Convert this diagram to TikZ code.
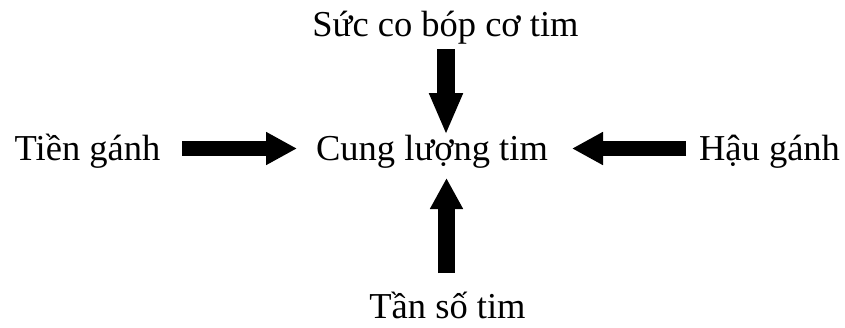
\documentclass[tikz,border=0pt]{standalone}
\usepackage{fontspec}
\setmainfont{Liberation Serif}
\usetikzlibrary{arrows.meta}
\begin{document}
\begin{tikzpicture}[x=1pt,y=-1pt,
  lbl/.style={anchor=base,inner sep=0pt,font=\fontsize{36.5}{40}\selectfont},
  fat/.style={line width=#1,line cap=butt,draw=black},
  tipA/.style={-{Triangle[length=31pt,width=31pt]}},
  tipB/.style={-{Triangle[length=42pt,width=31pt]}}]
\useasboundingbox (0,0) rectangle (845,327);
\node[lbl] (top) at (445.5,36) {Sức co bóp cơ tim};
\node[lbl] (ctr) at (432,160) {Cung lượng tim};
\node[lbl] (lft) at (87.5,160) {Tiền gánh};
\node[lbl] (rgt) at (769.5,160) {Hậu gánh};
\node[lbl] (bot) at (447.5,318.5) {Tần số tim};
\coordinate (l0) at (182,148.5);
\coordinate (l1) at (297,148.5);
\coordinate (r0) at (686,148.5);
\coordinate (r1) at (572,148.5);
\coordinate (t0) at (446,49);
\coordinate (t1) at (446,135);
\coordinate (b0) at (446.5,273);
\coordinate (b1) at (446.5,178);
\draw[fat=15pt,tipA] (l0) -- (l1);
\draw[fat=15pt,tipA] (r0) -- (r1);
\draw[fat=18pt,tipB] (t0) -- (t1);
\draw[fat=17pt,tipA] (b0) -- (b1);
\end{tikzpicture}
\end{document}
